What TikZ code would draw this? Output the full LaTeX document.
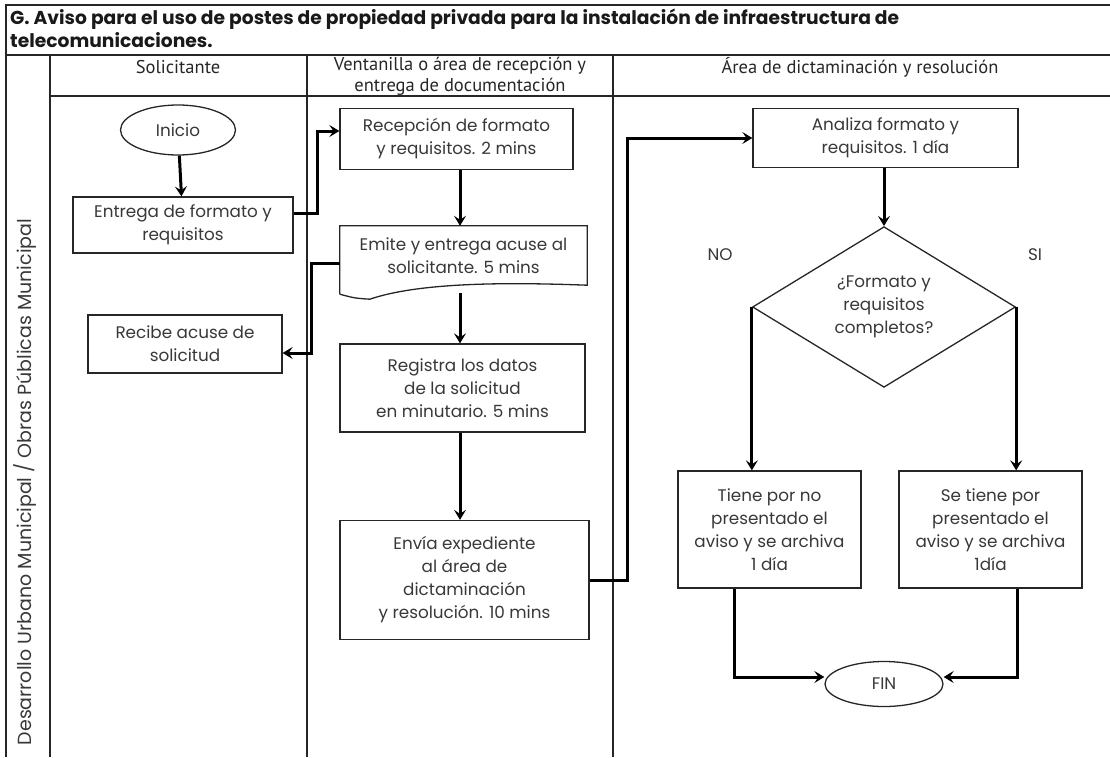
\documentclass[tikz,border=0pt]{standalone}
\usepackage{fontspec}
\setmainfont{Poppins}
\newfontfamily\hdfont{PT Sans}
\usetikzlibrary{shapes.geometric,arrows.meta,calc}
\begin{document}
\begin{tikzpicture}[x=1pt,y=-1pt,
  txt/.style={font=\fontsize{16.8}{23}\selectfont, text=black!78, align=center},
  box/.style={txt, draw=black!85, line width=1.3pt, inner sep=2pt},
  term/.style={txt, ellipse, draw=black!85, line width=1.3pt, inner sep=0pt},
  hd/.style={font=\hdfont\fontsize{18.5}{21}\selectfont, text=black!85, align=center},
  flow/.style={line width=3pt, black, -{Stealth[length=10pt,width=12pt,inset=4pt]}},
  lane/.style={line width=1.3pt, black!85}]
\useasboundingbox (0,0) rectangle (1110,757);
% table frame
\draw[lane] (1110,5) -- (6,5) -- (6,757);
\draw[lane] (6,55) -- (1110,55);
\draw[lane] (50,96) -- (1110,96);
\draw[lane] (50,55) -- (50,757);
\draw[lane] (307,55) -- (307,757);
\draw[lane] (613,55) -- (613,757);
% title
\node[anchor=north west, align=left, font=\bfseries\fontsize{18.7}{23}\selectfont, text=black!90, inner sep=0pt] (title) at (10,9)
  {G. Aviso para el uso de postes de propiedad privada para la instalación de infraestructura de\\telecomunicaciones.};
% headers
\node[hd] (h1) at (178,67) {Solicitante};
\node[hd] (h2) at (460,76) {Ventanilla o área de recepción y\\entrega de documentación};
\node[hd] (h3) at (860,67) {Área de dictaminación y resolución};
% lane label
\node[txt, rotate=90, font=\fontsize{19}{22}\selectfont] (lanelbl) at (25,482) {Desarrollo Urbano Municipal / Obras Públicas Municipal};
% nodes
\coordinate (col) at (460,0);
\node[term, minimum width=115, minimum height=50] (inicio) at (178,130) {Inicio};
\node[box, minimum width=220, minimum height=56] (entrega) at (183,225) {Entrega de formato y\\requisitos};
\node[box, minimum width=194, minimum height=58] (recibe) at (185,344) {Recibe acuse de\\solicitud};
\node[box, minimum width=233, minimum height=61] (recep) at (456.5,139) {Recepción de formato\\y requisitos. 2 mins};
\node[txt, minimum width=247, minimum height=60, inner sep=2pt] (emite) at (463.5,256) {Emite y entrega acuse al\\solicitante. 5 mins};
\draw[black!85, line width=1.3pt] ($(emite.south west)+(0,8)$) -- (emite.north west) -- (emite.north east) -- ($(emite.south east)+(0,-1)$)
  .. controls ($(emite.south east)+(-80,-4)$) and ($(emite.south west)+(80,-4)$) .. ($(emite.south west)+(30,13)$)
  .. controls ($(emite.south west)+(15,12)$) .. ($(emite.south west)+(0,8)$);
\node[box, minimum width=245, minimum height=88] (registra) at (462.5,388) {Registra los datos\\de la solicitud\\en minutario. 5 mins};
\node[box, minimum width=249, minimum height=119] (envia) at (464.5,580) {Envía expediente\\al área de\\dictaminación\\y resolución. 10 mins};
\node[box, minimum width=265, minimum height=59] (analiza) at (885.5,138) {Analiza formato y\\requisitos. 1 día};
\node[txt, diamond, draw=black!85, line width=1.3pt, minimum width=263, minimum height=159, inner sep=0pt] (dec) at (884,307) {¿Formato y\\requisitos\\completos?};
\node[txt] (no) at (720,255) {NO};
\node[txt] (si) at (1035,255) {SI};
\node[box, minimum width=183, minimum height=117] (tiene) at (769.5,529.5) {Tiene por no\\presentado el\\aviso y se archiva\\1 día};
\node[box, minimum width=183, minimum height=117] (setiene) at (990.5,529.5) {Se tiene por\\presentado el\\aviso y se archiva\\1día};
\node[term, minimum width=118, minimum height=45] (fin) at (884,684) {FIN};
% connectors
\draw[flow] (inicio) -- (entrega);
\draw[flow] ($(entrega.east)+(0,-12)$) -- ++(24,0) |- ($(recep.west)+(0,-8)$);
\draw[flow] ($(emite.west)+(0,7)$) -- ++(-28,0) |- ($(recibe.east)+(0,9)$);
\draw[flow] (recep.south -| col) -- (emite.north -| col);
\draw[flow] ($(emite.south -| col)+(0,7)$) -- (registra.north -| col);
\draw[flow] (registra.south -| col) -- (envia.north -| col);
\draw[flow] (envia.east) -- ++(38,0) |- (analiza.west);
\draw[flow] (analiza.south -| dec) -- (dec.north);
\draw[flow] (dec.west) -- (dec.west |- tiene.north);
\draw[flow] (dec.east) -- (dec.east |- setiene.north);
\draw[flow] ($(tiene.south)+(-35,0)$) |- ($(fin.west)+(0,-7)$);
\draw[flow] ($(setiene.south)+(26.5,0)$) |- ($(fin.east)+(0,-7)$);
\end{tikzpicture}
\end{document}
